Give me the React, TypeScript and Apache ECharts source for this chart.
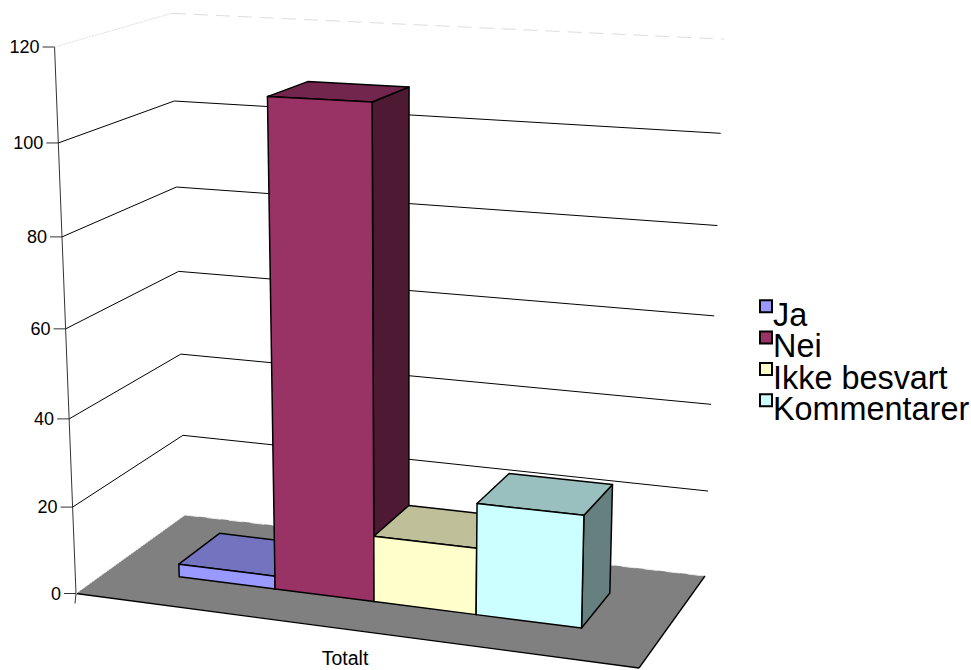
import React, { useEffect, useRef } from "react";
import * as echarts from "echarts";

// Survey answers, one category with four columns.
const categories = ["Totalt"];
const seriesNames = ["Ja", "Nei", "Ikke besvart", "Kommentarer"];
const jaValues = [3];
const neiValues = [109];
const ikkeBesvartValues = [15];
const kommentarerValues = [25];
const axisTicks = [0, 20, 40, 60, 80, 100, 120];
const axisMax = 120;

// Front, top and side shades per column.
const frontColors = ["#9999FF", "#993366", "#FFFFCC", "#CCFFFF"];
const topColors = ["#7373BF", "#73264D", "#BFBF99", "#99BFBF"];
const sideColors = ["#4D4D80", "#4D1933", "#808066", "#668080"];

// Legend swatch: a square in the upper part of a taller box, so it sits above the text's middle.
const legendIcon = "path://M0 0L12 0L12 12L0 12ZM0 29.4L0 29.4Z";

type P = [number, number];

// Floor plane corners in the order (0,0) (1,0) (1,1) (0,1), and the point verticals converge to.
const floorCorners: P[] = [[76, 593.5], [639, 668], [705, 576], [185, 515]];
const verticalVanish: P = [406, 9003];
const ceilingWeight = 0.06102;

// Homogeneous coefficients of the unit-square to floor homography.
const [p0, p1, p2, p3] = floorCorners;
const dx1 = p1[0] - p2[0], dx2 = p3[0] - p2[0], sumX = p0[0] - p1[0] + p2[0] - p3[0];
const dy1 = p1[1] - p2[1], dy2 = p3[1] - p2[1], sumY = p0[1] - p1[1] + p2[1] - p3[1];
const den = dx1 * dy2 - dx2 * dy1;
const hg = (sumX * dy2 - dx2 * sumY) / den;
const hh = (dx1 * sumY - sumX * dy1) / den;
const ha = p1[0] - p0[0] + hg * p1[0], hb = p3[0] - p0[0] + hh * p3[0];
const hd = p1[1] - p0[1] + hg * p1[1], he = p3[1] - p0[1] + hh * p3[1];

// Maps a floor position (u along the category axis, v in depth) and a height share t to the page.
function project(u: number, v: number, t: number): P {
  const w = hg * u + hh * v + 1;
  const x = ha * u + hb * v + p0[0];
  const y = hd * u + he * v + p0[1];
  const k = ceilingWeight * t * (1 - 0.01 * u * v);
  return [(x - k * verticalVanish[0]) / (w - k), (y - k * verticalVanish[1]) / (w - k)];
}

const columnWidth = 0.1833;
const depthFront = 0.304;
const depthBack = 0.694;

function valueShare(api: any, cs: any, value: number) {
  return 1 - (api.coord([0, value])[1] - cs.y) / cs.height;
}

function columnRenderer(index: number) {
  return (params: any, api: any) => {
    const cs = params.coordSys;
    const value = api.value(1);
    const t = valueShare(api, cs, value);
    const center = (api.coord([api.value(0), 0])[0] - cs.x) / cs.width;
    const u0 = center + (index - 2) * columnWidth;
    const u1 = u0 + columnWidth;
    const edge = { stroke: "#000", lineWidth: 1.5, lineJoin: "round" };
    const face = (points: P[], fill: string) => ({
      type: "polygon",
      shape: { points },
      style: { fill, ...edge },
    });
    return {
      type: "group",
      children: [
        face(
          [project(u1, depthFront, 0), project(u1, depthBack, 0), project(u1, depthBack, t), project(u1, depthFront, t)],
          sideColors[index]
        ),
        face(
          [project(u0, depthFront, t), project(u1, depthFront, t), project(u1, depthBack, t), project(u0, depthBack, t)],
          topColors[index]
        ),
        face(
          [project(u0, depthFront, 0), project(u1, depthFront, 0), project(u1, depthFront, t), project(u0, depthFront, t)],
          frontColors[index]
        ),
      ],
    };
  };
}

// Floor, walls, the slanted value axis and the category label.
function frameRenderer(params: any, api: any) {
  const cs = params.coordSys;
  const value = api.value(1);
  const t = valueShare(api, cs, value);
  const atAxis = project(0, 0, t);
  const corner = project(0, 1, t);
  const farEnd = project(1, 1, t);
  const isEdge = value === 0 || value === axisMax;
  const line = (from: P, to: P, style: any) => ({
    type: "line",
    shape: { x1: from[0], y1: from[1], x2: to[0], y2: to[1] },
    style,
  });
  const plain = { stroke: "#000", lineWidth: 1 };
  const children: any[] = [];
  if (value === 0) {
    children.push({
      type: "polygon",
      shape: { points: [project(0, 0, 0), project(1, 0, 0), project(1, 1, 0), project(0, 1, 0)] },
      style: { fill: "#808080" },
    });
    children.push(line(project(0, 0, 0), project(1, 0, 0), { stroke: "#000", lineWidth: 1.3 }));
    children.push(line(project(1, 0, 0), project(1, 1, 0), { stroke: "#000", lineWidth: 1.3 }));
    children.push(line(project(0, 0, 0), project(0, 0, 1), { stroke: "#333", lineWidth: 1 }));
    children.push(line(atAxis, [atAxis[0] - 1, atAxis[1] + 10], { stroke: "#333", lineWidth: 1 }));
    const mid = project(0.5, 0, 0);
    children.push({
      type: "text",
      style: {
        text: categories[0],
        x: mid[0],
        y: mid[1] + 29,
        align: "center",
        verticalAlign: "middle",
        fontFamily: "Liberation Sans",
        fontSize: 19.5,
        fill: "#000",
      },
    });
  }
  const edgeColor = value === 0 ? "#eeeeee" : "#dddddd";
  children.push(
    line(atAxis, corner, isEdge ? { stroke: edgeColor, lineWidth: 1, lineDash: [2, 1] } : plain),
    line(corner, farEnd, isEdge ? { stroke: edgeColor, lineWidth: 1, lineDash: [14, 8] } : plain),
    line([atAxis[0] - 12, atAxis[1]], atAxis, { stroke: "#333", lineWidth: 1 }),
    {
      type: "text",
      style: {
        text: String(value),
        x: atAxis[0] - 15,
        y: atAxis[1],
        align: "right",
        verticalAlign: "middle",
        fontFamily: "Liberation Sans",
        fontSize: 18,
        fill: "#000",
      },
    }
  );
  return { type: "group", children };
}

export default function App() {
  const ref = useRef<HTMLDivElement>(null);
  useEffect(() => {
    const chart = echarts.init(ref.current!, null, { renderer: "svg" });
    const valueLists = [jaValues, neiValues, ikkeBesvartValues, kommentarerValues];
    chart.setOption({
      animation: false,
      backgroundColor: "#fff",
      grid: { left: 0, right: 0, top: 0, bottom: 0 },
      xAxis: { type: "category", data: categories, show: false },
      yAxis: { type: "value", min: 0, max: axisMax, interval: 20, show: false },
      legend: {
        orient: "vertical",
        left: 759,
        top: 299,
        padding: 0,
        itemWidth: 12,
        itemHeight: 29.4,
        itemGap: -0.7,
        selectedMode: false,
        icon: legendIcon,
        data: seriesNames,
        textStyle: {
          fontFamily: "Liberation Sans",
          fontSize: 32.4,
          color: "#000",
          padding: [0, 0, 0, -4],
        },
      },
      series: [
        {
          type: "custom",
          name: "frame",
          silent: true,
          clip: false,
          renderItem: frameRenderer,
          encode: { x: 0, y: 1 },
          data: axisTicks.map((tick) => [0, tick]),
        },
        ...seriesNames.map((name, index) => ({
          type: "custom",
          name,
          silent: true,
          clip: false,
          renderItem: columnRenderer(index),
          encode: { x: 0, y: 1 },
          itemStyle: { color: frontColors[index], borderColor: "#000", borderWidth: 1.5 },
          data: valueLists[index].map((v, i) => [i, v]),
        })),
      ],
    });
    return () => chart.dispose();
  }, []);
  return (
    <div
      ref={ref}
      style={{ position: "fixed", left: 0, top: 0, width: 971, height: 670 }}
    />
  );
}
